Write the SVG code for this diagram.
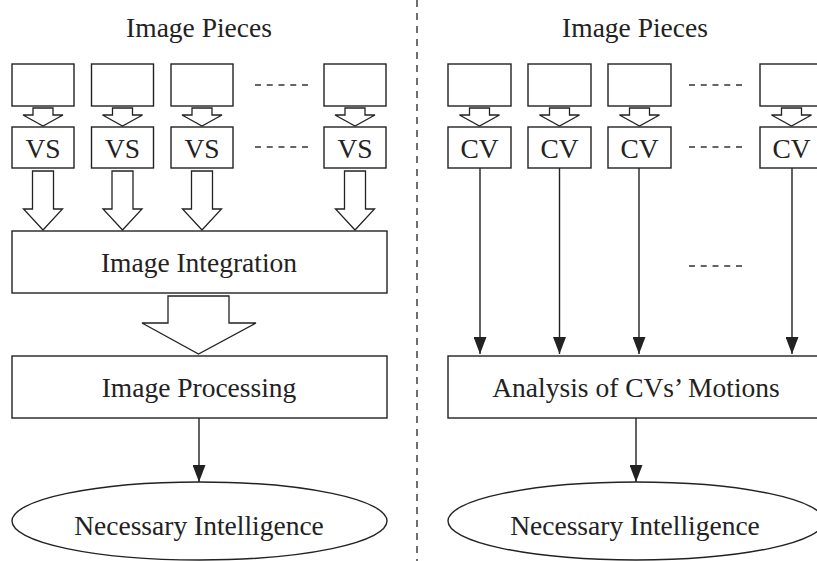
<svg xmlns="http://www.w3.org/2000/svg" width="817" height="561" viewBox="0 0 817 561">
  <defs>
    <style>
      .box { fill: #fff; stroke: #222; stroke-width: 1.4; }
      .hollow { fill: #fff; stroke: #222; stroke-width: 1.3; stroke-linejoin: miter; }
      .lbl { font-family: "Liberation Serif", "Times New Roman", serif; font-size: 27.5px; fill: #222; text-anchor: middle; }
      .link { fill: none; stroke: #222; stroke-width: 1.4; }
      .dots { fill: none; stroke: #333; stroke-width: 1.4; stroke-dasharray: 6 5.75; }
      .divider { fill: none; stroke: #333; stroke-width: 1.4; stroke-dasharray: 7 6; }
    </style>
    <marker id="tip" markerWidth="17" markerHeight="13" refX="17" refY="6.5" viewBox="0 0 17 13" orient="auto" markerUnits="userSpaceOnUse">
      <path d="M0,0 L17,6.5 L0,13 Z" fill="#222"/>
    </marker>
    <!-- small hollow arrow between a piece and its sensor box, centred on x=0 -->
    <path id="smallArrow" class="hollow" d="M-10,108 L10,108 L10,115 L20,115 L0,126 L-20,115 L-10,115 Z"/>
    <!-- long hollow arrow from a VS box into the integration box -->
    <path id="bigArrow" class="hollow" d="M-10.5,171 L10.5,171 L10.5,209 L19.5,209 L0,230 L-19.5,209 L-10.5,209 Z"/>
  </defs>

  <rect width="817" height="561" fill="#fff"/>

  <!-- divider between the two schemes -->
  <line class="divider" x1="417" y1="0" x2="417" y2="561"/>

  <!-- ===== Left: conventional vision sensors ===== -->
  <text class="lbl" x="199" y="37">Image Pieces</text>

  <g id="piece-l1"><rect class="box" x="12" y="64" width="62" height="42"/></g>
  <g id="piece-l2"><rect class="box" x="91.5" y="64" width="62" height="42"/></g>
  <g id="piece-l3"><rect class="box" x="171" y="64" width="62" height="42"/></g>
  <g id="piece-l4"><rect class="box" x="324" y="64" width="62" height="42"/></g>

  <g id="vs1"><rect class="box" x="12" y="127" width="62" height="41"/><text class="lbl" x="43" y="158">VS</text></g>
  <g id="vs2"><rect class="box" x="91.5" y="127" width="62" height="41"/><text class="lbl" x="122.5" y="158">VS</text></g>
  <g id="vs3"><rect class="box" x="171" y="127" width="62" height="41"/><text class="lbl" x="202" y="158">VS</text></g>
  <g id="vs4"><rect class="box" x="324" y="127" width="62" height="41"/><text class="lbl" x="355" y="158">VS</text></g>

  <g id="integration">
    <rect class="box" x="12" y="231" width="375" height="62"/>
    <text class="lbl" x="199" y="272">Image Integration</text>
  </g>

  <g id="processing">
    <rect class="box" x="12" y="356" width="375" height="62"/>
    <text class="lbl" x="199" y="397">Image Processing</text>
  </g>

  <g id="intelligence-l">
    <ellipse class="box" cx="199.5" cy="521" rx="187.5" ry="39"/>
    <text class="lbl" x="199" y="535">Necessary Intelligence</text>
  </g>

  <!-- ===== Right: CV-based sensing ===== -->
  <text class="lbl" x="635" y="37">Image Pieces</text>

  <g id="piece-r1"><rect class="box" x="448" y="64" width="63" height="42"/></g>
  <g id="piece-r2"><rect class="box" x="528" y="64" width="63" height="42"/></g>
  <g id="piece-r3"><rect class="box" x="608" y="64" width="63" height="42"/></g>
  <g id="piece-r4"><rect class="box" x="760" y="64" width="63" height="42"/></g>

  <g id="cv1"><rect class="box" x="448" y="127" width="63" height="41"/><text class="lbl" x="479.5" y="158">CV</text></g>
  <g id="cv2"><rect class="box" x="528" y="127" width="63" height="41"/><text class="lbl" x="559.5" y="158">CV</text></g>
  <g id="cv3"><rect class="box" x="608" y="127" width="63" height="41"/><text class="lbl" x="639.5" y="158">CV</text></g>
  <g id="cv4"><rect class="box" x="760" y="127" width="63" height="41"/><text class="lbl" x="791.5" y="158">CV</text></g>

  <g id="analysis">
    <rect class="box" x="448" y="356" width="376" height="62"/>
    <text class="lbl" x="636" y="397">Analysis of CVs’ Motions</text>
  </g>

  <g id="intelligence-r">
    <ellipse class="box" cx="636" cy="521" rx="188" ry="39"/>
    <text class="lbl" x="635" y="535">Necessary Intelligence</text>
  </g>

  <!-- ===== Connectors ===== -->
  <g id="connectors">
    <use href="#smallArrow" x="43"/>
    <use href="#smallArrow" x="122.5"/>
    <use href="#smallArrow" x="202"/>
    <use href="#smallArrow" x="355"/>

    <use href="#bigArrow" x="43"/>
    <use href="#bigArrow" x="122.5"/>
    <use href="#bigArrow" x="202"/>
    <use href="#bigArrow" x="355"/>

    <path class="hollow" d="M168,296 L229,296 L229,323 L256,323 L198.5,354 L142,323 L168,323 Z"/>
    <line class="link" x1="199" y1="418" x2="199" y2="482" marker-end="url(#tip)"/>

    <use href="#smallArrow" x="479.5"/>
    <use href="#smallArrow" x="559.5"/>
    <use href="#smallArrow" x="639.5"/>
    <use href="#smallArrow" x="791.5"/>

    <line class="link" x1="480" y1="168" x2="480" y2="354" marker-end="url(#tip)"/>
    <line class="link" x1="559.5" y1="168" x2="559.5" y2="354" marker-end="url(#tip)"/>
    <line class="link" x1="639" y1="168" x2="639" y2="354" marker-end="url(#tip)"/>
    <line class="link" x1="792" y1="168" x2="792" y2="354" marker-end="url(#tip)"/>
    <line class="link" x1="636" y1="418" x2="636" y2="482" marker-end="url(#tip)"/>
  </g>

  <!-- ellipsis marks for the omitted columns -->
  <line class="dots" x1="255" y1="85" x2="308" y2="85"/>
  <line class="dots" x1="255" y1="147" x2="308" y2="147"/>
  <line class="dots" x1="689" y1="85" x2="742" y2="85"/>
  <line class="dots" x1="689" y1="147" x2="742" y2="147"/>
  <line class="dots" x1="689" y1="266" x2="742" y2="266"/>
</svg>
